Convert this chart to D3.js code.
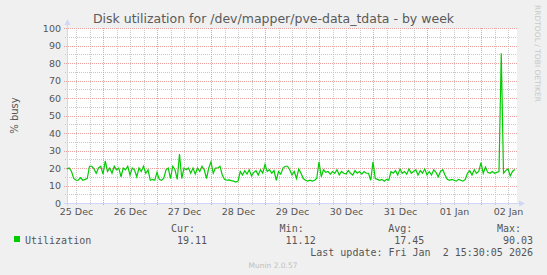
<!DOCTYPE html>
<html>
<head>
<meta charset="utf-8">
<script src="https://cdn.jsdelivr.net/npm/d3@7"></script>
<style>
  body { margin: 0; background: #f0f0f0; }
  text { font-family: "DejaVu Sans", sans-serif; }
  .mono { font-family: "DejaVu Sans Mono", monospace; }
</style>
</head>
<body>
<svg id="chart" width="547" height="275"></svg>
<script>
var width = 547,
    height = 275,
    plotLeft = 67, plotRight = 517,   // plot area
    plotTop = 28, plotBottom = 203;

// hourly samples, starting 25 Dec 08:00
var startTime = Date.UTC(2025, 11, 25, 8);
var endTime = Date.UTC(2026, 0, 2, 16);
var busy = [
  19.5, 20, 18, 14, 13, 13, 14.5, 13, 13.5, 14,
  21, 21, 19.5, 17, 20, 21, 16.5, 24, 18, 20,
  17, 21, 19, 20, 15, 20, 19, 21, 16, 20,
  19, 15, 20, 18, 21, 17, 19, 13, 13.5, 13,
  17.5, 13.5, 13, 14, 19, 20, 14, 21, 19, 13.5,
  28, 14, 20, 19, 20, 17, 20, 16.5, 20, 18,
  21, 19, 14, 20, 23.5, 17, 20, 20, 21, 16,
  13.5, 13, 13.2, 12.8, 12.5, 12, 12.5, 18, 16, 18.5,
  16.5, 19, 15.5, 17.5, 18.5, 16, 19, 17, 22, 18,
  19, 17, 18.5, 13, 18, 16.5, 20, 21, 21, 19,
  16, 18, 14, 19.5, 17, 14, 13, 12.5, 13, 12.5,
  13, 14, 23.5, 15, 19, 17.5, 18, 16.5, 18, 17,
  19, 16, 18, 17, 16.5, 18.5, 17, 16, 18.5, 17,
  18, 16.5, 18, 17, 17, 13, 23.5, 14, 13.5, 13,
  13.5, 12.5, 13.5, 13, 18, 17, 18.5, 16, 19.5, 17,
  18, 16.5, 19.5, 17, 18, 19, 16, 18.5, 17, 19.5,
  16, 18, 16, 19, 17.5, 15, 18, 19, 16, 13.5,
  13, 13.5, 13, 12.5, 13.5, 13, 12.5, 13.5, 17, 18.5,
  16, 19, 17, 18, 23, 17, 20.5, 17.5, 17, 18,
  17, 17.5, 18, 85.5, 17, 18.5, 19.5, 15.5, 18, 19.1
];

var yTicks = d3.range(0, 101, 10);
var yMinor = d3.range(5, 100, 10);

var legendHeads = ["Cur:", "Min:", "Avg:", "Max:"];
var legendValues = ["19.11", "11.12", "17.45", "90.03"];

var title = "Disk utilization for /dev/mapper/pve-data_tdata - by week";
var lastUpdate = "Last update: Fri Jan  2 15:30:05 2026";

var points = busy.map(function(v, i) {
  return { t: new Date(startTime + i * 3600000), v: v };
});

var x = d3.scaleUtc()
    .domain([new Date(startTime), new Date(endTime)])
    .range([plotLeft, plotRight]);

var y = d3.scaleLinear()
    .domain([0, 100])
    .range([plotBottom, plotTop]);

var svg = d3.select("#chart");

svg.append("rect")
    .attr("width", width).attr("height", height)
    .attr("fill", "#f0f0f0");

svg.append("rect")
    .attr("x", plotLeft).attr("y", plotTop)
    .attr("width", plotRight - plotLeft).attr("height", plotBottom - plotTop)
    .attr("fill", "#fff");

// grid
var days = d3.utcDay.range(x.domain()[0], x.domain()[1]);
var sixHours = d3.utcHour.every(6).range(x.domain()[0], x.domain()[1])
    .filter(function(d) { return d.getUTCHours() !== 0; });

var grid = svg.append("g").attr("fill", "none").attr("stroke-dasharray", "1,1");

grid.selectAll(".vminor")
    .data(sixHours)
  .enter().append("line")
    .attr("x1", function(d) { return Math.round(x(d)) + 0.5; })
    .attr("x2", function(d) { return Math.round(x(d)) + 0.5; })
    .attr("y1", plotTop).attr("y2", plotBottom + 2)
    .attr("stroke", "#c8c8c8");

grid.selectAll(".hminor")
    .data(yMinor)
  .enter().append("line")
    .attr("x1", plotLeft - 2).attr("x2", plotRight)
    .attr("y1", function(d) { return Math.round(y(d)) + 0.5; })
    .attr("y2", function(d) { return Math.round(y(d)) + 0.5; })
    .attr("stroke", "#c8c8c8");

grid.selectAll(".vmajor")
    .data(days)
  .enter().append("line")
    .attr("x1", function(d) { return Math.round(x(d)) + 0.5; })
    .attr("x2", function(d) { return Math.round(x(d)) + 0.5; })
    .attr("y1", plotTop).attr("y2", plotBottom + 3)
    .attr("stroke", "#eba0a0");

grid.selectAll(".hmajor")
    .data(yTicks)
  .enter().append("line")
    .attr("x1", plotLeft - 3).attr("x2", plotRight)
    .attr("y1", function(d) { return Math.round(y(d)) + 0.5; })
    .attr("y2", function(d) { return Math.round(y(d)) + 0.5; })
    .attr("stroke", "#eba0a0");

// axes lines + arrows
var axisColor = "#cfd6f8";
svg.append("line")
    .attr("x1", plotLeft + 0.5).attr("x2", plotLeft + 0.5)
    .attr("y1", plotBottom + 3).attr("y2", plotTop - 4)
    .attr("stroke", axisColor);
svg.append("line")
    .attr("x1", plotLeft - 3).attr("x2", plotRight + 3)
    .attr("y1", plotBottom + 0.5).attr("y2", plotBottom + 0.5)
    .attr("stroke", axisColor);
svg.append("path")
    .attr("d", "M" + (plotLeft - 2.5) + "," + (plotTop - 3) + "L" + (plotLeft + 0.5) + "," + (plotTop - 9) + "L" + (plotLeft + 3.5) + "," + (plotTop - 3) + "Z")
    .attr("fill", axisColor);
svg.append("path")
    .attr("d", "M" + (plotRight + 2) + "," + (plotBottom - 2.5) + "L" + (plotRight + 8) + "," + (plotBottom + 0.5) + "L" + (plotRight + 2) + "," + (plotBottom + 3.5) + "Z")
    .attr("fill", axisColor);

// tick labels
var yAxis = svg.append("g")
    .attr("transform", "translate(" + (plotLeft - 5) + ",0)")
    .call(d3.axisLeft(y).tickValues(yTicks).tickSize(0).tickPadding(1));
yAxis.select(".domain").remove();
yAxis.selectAll("text")
    .attr("font-family", "DejaVu Sans")
    .attr("font-size", "9.5px")
    .attr("fill", "#555");

var noons = d3.utcDay.range(d3.utcDay.floor(x.domain()[0]), x.domain()[1])
    .map(function(d) { return d3.utcHour.offset(d, 12); });

var xAxis = svg.append("g")
    .attr("transform", "translate(0," + (plotBottom + 4) + ")")
    .call(d3.axisBottom(x).tickValues(noons).tickSize(0).tickPadding(1)
      .tickFormat(d3.utcFormat("%d %b")));
xAxis.select(".domain").remove();
xAxis.selectAll("text")
    .attr("font-family", "DejaVu Sans")
    .attr("font-size", "9.5px")
    .attr("fill", "#555");

// data line
svg.append("path")
    .datum(points)
    .attr("fill", "none")
    .attr("stroke", "#00cc00")
    .attr("stroke-width", 1.2)
    .attr("d", d3.line()
      .x(function(d) { return x(d.t); })
      .y(function(d) { return y(d.v); }));

// title and labels
svg.append("text")
    .attr("x", 273.5).attr("y", 23)
    .attr("text-anchor", "middle")
    .attr("font-size", "12.5px")
    .attr("fill", "#5a5a5a")
    .text(title);

svg.append("text")
    .attr("transform", "translate(18," + ((plotTop + plotBottom) / 2) + ")rotate(-90)")
    .attr("text-anchor", "middle")
    .attr("font-size", "10px")
    .attr("fill", "#555")
    .text("% busy");

svg.append("text")
    .attr("transform", "translate(535,5)rotate(90)")
    .attr("font-size", "7.5px")
    .attr("fill", "#c8c8c8")
    .attr("textLength", 97)
    .text("RRDTOOL / TOBI OETIKER");

// legend
var legend = svg.append("g").attr("class", "mono");

legend.selectAll(".head")
    .data(legendHeads)
  .enter().append("text")
    .attr("class", "mono")
    .attr("x", function(d, i) { return 195 + i * 108.7; })
    .attr("y", 231.5)
    .attr("text-anchor", "end")
    .attr("font-size", "10px")
    .attr("fill", "#555")
    .text(function(d) { return d; });

legend.selectAll(".val")
    .data(legendValues)
  .enter().append("text")
    .attr("class", "mono")
    .attr("x", function(d, i) { return 207 + i * 108.7; })
    .attr("y", 243.5)
    .attr("text-anchor", "end")
    .attr("font-size", "10px")
    .attr("fill", "#555")
    .text(function(d) { return d; });

legend.append("rect")
    .attr("x", 14).attr("y", 236)
    .attr("width", 6).attr("height", 6)
    .attr("fill", "#00cc00");

legend.append("text")
    .attr("class", "mono")
    .attr("x", 25).attr("y", 243.5)
    .attr("font-size", "10px")
    .attr("fill", "#555")
    .text("Utilization");

legend.append("text")
    .attr("class", "mono")
    .attr("x", 533).attr("y", 255.5)
    .attr("text-anchor", "end")
    .attr("font-size", "10px")
    .attr("fill", "#555")
    .attr("xml:space", "preserve")
    .style("white-space", "pre")
    .text(lastUpdate);

svg.append("text")
    .attr("x", 273).attr("y", 267.5)
    .attr("text-anchor", "middle")
    .attr("font-size", "7.5px")
    .attr("fill", "#c0c0c0")
    .text("Munin 2.0.57");
</script>
</body>
</html>
